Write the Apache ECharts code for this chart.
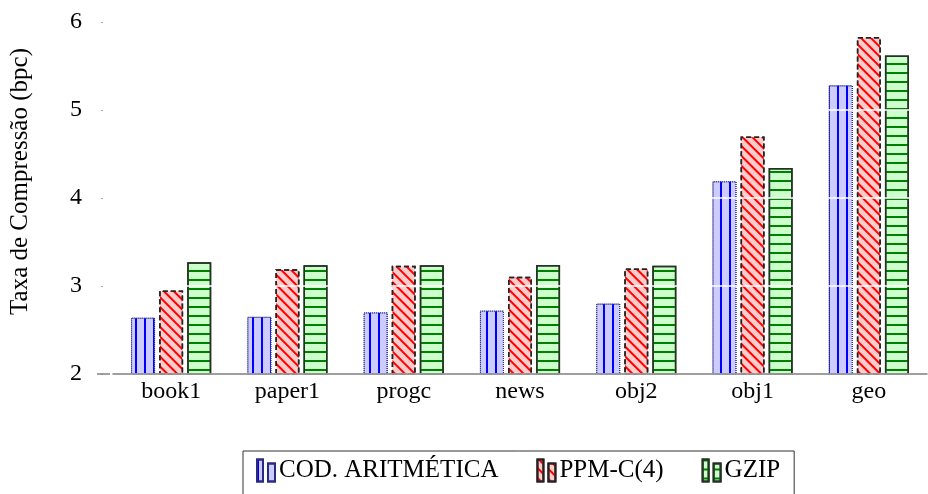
<!DOCTYPE html>
<html>
<head>
<meta charset="utf-8">
<script src="https://cdn.jsdelivr.net/npm/echarts@6/dist/echarts.min.js"></script>
<style>html,body{margin:0;padding:0;background:#fff}#c{width:928px;height:494px}</style>
</head>
<body>
<div id="c"></div>
<script>
const categories = ['book1', 'paper1', 'progc', 'news', 'obj2', 'obj1', 'geo'];
const seriesNames = ['COD. ARITMÉTICA', 'PPM-C(4)', 'GZIP'];
const aritmetica = [2.64, 2.65, 2.70, 2.72, 2.80, 4.19, 5.28];
const ppmc4 = [2.95, 3.19, 3.23, 3.105, 3.20, 4.70, 5.83];
const gzip = [3.27, 3.235, 3.235, 3.24, 3.23, 4.34, 5.62];
const yTicks = [2, 3, 4, 5, 6];

const FONT = '"Liberation Serif", "DejaVu Serif", serif';
const chart = echarts.init(document.getElementById('c'), null, {renderer: 'canvas'});

const iconPath = 'path://M0,0h6v22h-6z M11,4h7v18h-7z';

chart.setOption({
  animation: false,
  backgroundColor: '#ffffff',
  grid: {left: 109, right: 1, top: 22, bottom: 120, containLabel: false},
  legend: {
    left: 243, top: 451,
    padding: [7, 14, 16, 13],
    itemGap: 38,
    itemWidth: 18, itemHeight: 22,
    borderColor: '#333', borderWidth: 1,
    textStyle: {fontFamily: FONT, fontSize: 25, color: '#000', padding: [3, 0, 0, -1]},
    data: seriesNames.map(n => ({name: n, icon: iconPath}))
  },
  xAxis: {
    type: 'category',
    data: categories,
    z: 5,
    axisLine: {lineStyle: {color: '#808080', width: 1.5}},
    axisTick: {show: false},
    axisLabel: {fontFamily: FONT, fontSize: 24, color: '#000', margin: 6},
    splitLine: {show: false}
  },
  yAxis: {
    type: 'value',
    min: yTicks[0], max: yTicks[yTicks.length - 1], interval: 1,
    offset: 10,
    z: 3,
    name: 'Taxa de Compressão (bpc)',
    nameLocation: 'middle',
    nameGap: 70,
    nameTextStyle: {fontFamily: FONT, fontSize: 25, color: '#000', padding: [0, 0, 0, 33]},
    axisLine: {show: false},
    axisTick: {show: true, length: 2, lineStyle: {color: '#aaa'}},
    axisLabel: {fontFamily: FONT, fontSize: 24, color: '#000', margin: 21},
    splitLine: {show: true, lineStyle: {color: '#ffffff', width: 1.5}}
  },
  series: [
    {
      name: seriesNames[0], type: 'bar', data: aritmetica,
      barWidth: 24, barGap: '17%',
      itemStyle: {
        color: '#ccccff', borderColor: '#2a2a80', borderWidth: 1, borderType: 'dotted',
        decal: {symbol: 'rect', symbolSize: 1, color: '#0000ff', dashArrayX: [1.3, 6.7], dashArrayY: [4, 0]}
      }
    },
    {
      name: seriesNames[1], type: 'bar', data: ppmc4,
      barWidth: 24, barGap: '17%',
      itemStyle: {
        color: '#ffcccc', borderColor: '#222', borderWidth: 1.5, borderType: [5, 3],
        decal: {symbol: 'rect', symbolSize: 1, color: '#ff0000', dashArrayX: [1.3, 4.5], dashArrayY: [4, 0], rotation: -Math.PI / 4}
      }
    },
    {
      name: seriesNames[2], type: 'bar', data: gzip,
      barWidth: 24, barGap: '17%',
      itemStyle: {
        color: '#ccffcc', borderColor: '#223322', borderWidth: 1.5,
        decal: {symbol: 'rect', symbolSize: 1, color: '#008000', dashArrayX: [4, 0], dashArrayY: [1.5, 6.5]}
      }
    }
  ]
});

// extend the x-axis baseline a little to the left, like the reference
const base = chart.convertToPixel({gridIndex: 0}, [0, yTicks[0]]);
chart.setOption({
  graphic: [{
    type: 'line', z: 5,
    shape: {x1: 97, y1: base[1], x2: 110, y2: base[1]},
    style: {stroke: '#808080', lineWidth: 1.5}
  }]
});
</script>
</body>
</html>
